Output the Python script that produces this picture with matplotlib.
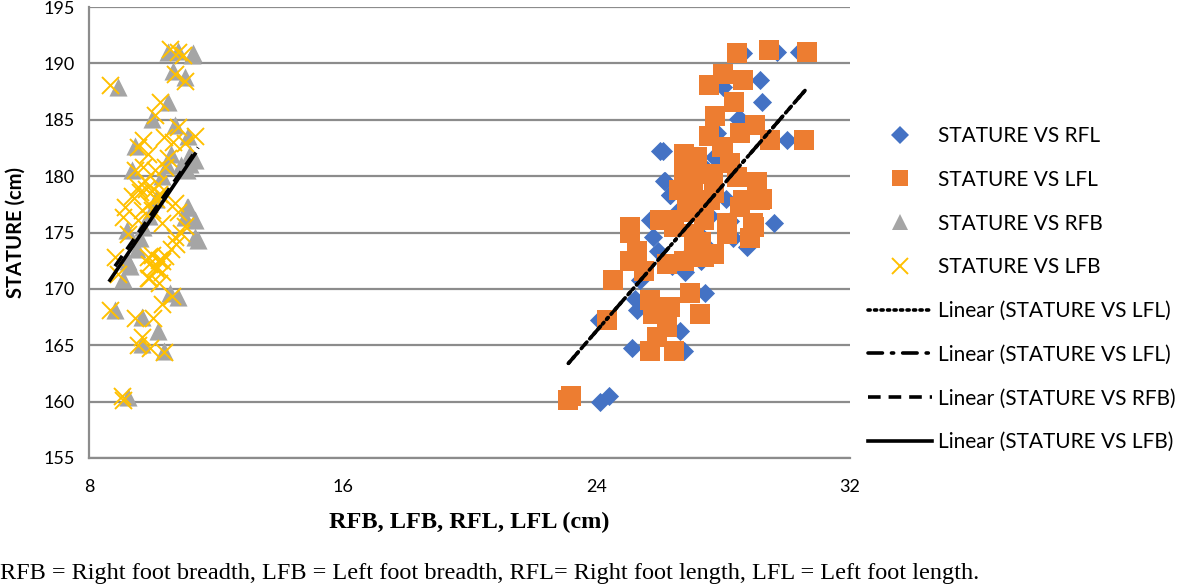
import numpy as np
import matplotlib
matplotlib.use("Agg")
import matplotlib.pyplot as plt
from matplotlib.lines import Line2D

# ---------------- data ----------------
# STATURE VS RFL (right foot length, cm) -> stature (cm)
rfl_x = [24.12, 24.39, 24.07, 25.12, 25.28, 25.23, 26.65, 26.75, 27.44, 26.02,
         26.12, 26.33, 25.70, 25.80, 25.96, 25.38, 29.59, 30.01, 29.22, 29.17,
         28.01, 28.64, 29.70, 30.38, 28.54, 27.81, 28.75, 27.70, 26.11, 26.17,
         26.33, 28.48, 26.40, 26.90, 27.20, 27.60, 28.10, 28.40, 26.60, 27.00,
         27.40, 27.90, 28.20, 26.80, 27.30, 27.10, 28.90, 26.50, 27.50, 28.30]
rfl_y = [160.0, 160.5, 167.2, 164.8, 168.1, 169.1, 166.3, 164.5, 169.6, 182.2,
         179.6, 178.3, 176.1, 174.6, 173.4, 170.8, 175.8, 183.2, 186.6, 188.5,
         187.9, 190.9, 191.0, 191.0, 185.1, 183.8, 173.7, 181.7, 182.2, 179.6,
         178.3, 185.1, 172.0, 173.0, 175.0, 176.5, 178.0, 180.0, 177.0, 179.0,
         174.0, 181.0, 176.0, 171.5, 172.5, 178.0, 179.5, 175.5, 180.5, 174.5]

# STATURE VS LFL (left foot length, cm)
lfl_x = [23.12, 23.20, 24.33, 24.54, 25.07, 25.07, 25.07, 26.02, 25.80, 26.33,
         26.23, 25.70, 26.44, 26.96, 27.28, 28.43, 29.43, 30.64, 28.01, 27.54,
         28.64, 28.33, 27.75, 29.01, 27.54, 30.54, 29.49, 26.75, 28.54, 27.96,
         26.75, 27.49, 26.86, 29.07, 29.22, 28.43, 28.54, 27.70, 28.12, 28.96,
         28.85, 27.07, 26.44, 27.38, 26.75, 26.23, 27.70, 25.49, 27.07, 27.17,
         28.01, 27.69, 26.85, 29.06, 29.17, 27.06, 27.59, 28.64, 26.85, 26.22,
         27.38, 28.11, 28.95, 25.28, 25.70, 25.91, 27.00, 27.30, 26.60, 28.20]
lfl_y = [160.1, 160.5, 167.2, 170.8, 175.0, 175.5, 172.5, 176.1, 167.8, 168.4,
         166.6, 164.5, 164.5, 169.6, 167.8, 190.9, 191.2, 191.0, 189.1, 188.1,
         188.5, 186.6, 185.3, 184.5, 183.6, 183.2, 183.2, 182.0, 183.8, 182.6,
         180.2, 180.2, 177.9, 179.5, 178.0, 179.9, 177.3, 178.5, 174.9, 175.5,
         174.5, 174.9, 175.5, 172.8, 172.5, 172.2, 173.1, 171.6, 173.7, 181.7,
         182.6, 180.2, 179.9, 179.3, 177.9, 178.5, 177.9, 177.9, 177.0, 176.1,
         176.1, 175.8, 175.8, 173.4, 169.0, 165.7, 176.8, 174.2, 178.8, 181.2]

# STATURE VS RFB (right foot breadth, cm)
rfb_x = [11.29, 10.50, 11.24, 10.82, 10.66, 11.03, 8.93, 10.50, 9.98, 10.71,
         9.45, 11.13, 11.34, 9.35, 11.13, 11.19, 11.08, 11.34, 11.44, 9.19,
         11.03, 11.34, 9.24, 9.08, 8.82, 10.82, 9.66, 10.19, 9.66, 10.35,
         9.24, 10.55, 9.30, 9.50, 9.60, 9.70, 9.90, 10.10, 10.30, 10.45,
         10.60, 10.90, 11.10, 11.20]
rfb_y = [190.9, 191.0, 190.7, 191.1, 189.3, 188.8, 187.9, 186.6, 185.1, 184.5,
         182.7, 183.6, 181.4, 180.5, 177.3, 181.1, 177.3, 176.1, 174.3, 175.2,
         176.4, 174.6, 172.5, 170.9, 168.1, 169.3, 167.5, 166.3, 165.1, 164.5,
         160.4, 169.6, 172.0, 173.5, 174.5, 175.5, 176.5, 178.0, 180.0, 181.0,
         182.0, 181.0, 180.5, 182.0]

# STATURE VS LFB (left foot breadth, cm)
lfb_x = [10.56, 10.82, 10.98, 10.71, 11.03, 8.66, 10.24, 10.08, 10.82, 11.34,
         9.71, 9.56, 10.35, 10.66, 11.03, 9.87, 10.50, 9.45, 10.08, 10.40,
         9.77, 10.19, 9.56, 9.98, 9.35, 10.29, 10.71, 9.14, 9.66, 10.80,
         9.08, 9.56, 10.29, 11.03, 9.24, 10.71, 8.82, 9.87, 10.29, 8.93,
         9.87, 10.08, 10.61, 10.29, 8.66, 9.45, 10.03, 9.66, 9.56, 9.93,
         10.35, 9.03, 9.08, 9.90, 10.10, 9.80, 10.00, 9.70, 10.20, 9.60,
         9.90, 10.10, 10.20, 10.30, 10.00, 10.40, 10.75, 10.90, 10.60, 9.90,
         10.20]
lfb_y = [191.3, 191.0, 190.7, 189.1, 188.4, 188.1, 186.6, 185.4, 184.4, 183.6,
         183.2, 182.6, 183.5, 183.0, 182.9, 182.0, 181.6, 180.5, 180.5, 180.8,
         179.6, 179.3, 179.0, 178.7, 178.2, 178.2, 177.6, 177.3, 177.0, 176.8,
         176.4, 176.1, 175.8, 175.6, 174.9, 174.6, 172.8, 172.8, 172.5, 171.3,
         171.0, 171.9, 169.4, 168.7, 168.1, 167.4, 167.4, 165.7, 165.0, 164.8,
         164.4, 160.5, 160.1, 177.5, 178.0, 178.9, 177.0, 180.8, 178.4, 178.6,
         172.2, 171.8, 172.6, 171.5, 173.0, 172.9, 174.0, 175.0, 173.5, 171.0,
         170.5]

series_labels = ["STATURE VS RFL", "STATURE VS LFL", "STATURE VS RFB", "STATURE VS LFB"]
trend_labels = ["Linear (STATURE VS LFL)", "Linear (STATURE VS LFL)",
                "Linear (STATURE VS RFB)", "Linear (STATURE VS LFB)"]

x_ticks = [8, 16, 24, 32]
y_ticks = [155, 160, 165, 170, 175, 180, 185, 190, 195]
x_label = "RFB, LFB, RFL, LFL (cm)"
y_label = "STATURE (cm)"
caption = ("RFB = Right foot breadth, LFB = Left foot breadth, "
           "RFL= Right foot length, LFL = Left foot length.")

# ---------------- figure ----------------
plt.rcParams['font.family'] = ['Lato', 'DejaVu Sans']
fig = plt.figure(figsize=(11.81, 5.88), dpi=100)
ax = fig.add_axes([89 / 1181, 1 - 458 / 588, (850 - 89) / 1181, (458 - 7) / 588])

blue, orange, grey, yellow = "#4472C4", "#ED7D31", "#A5A5A5", "#FFC000"

ax.scatter(rfl_x, rfl_y, marker='D', s=95, color=blue, linewidths=0, zorder=3)
ax.scatter(lfl_x, lfl_y, marker='s', s=200, color=orange, linewidths=0, zorder=4)
ax.scatter(rfb_x, rfb_y, marker='^', s=170, color=grey, linewidths=0, zorder=5)
ax.scatter(lfb_x, lfb_y, marker='x', s=150, color=yellow, linewidths=1.4, zorder=6)


def trend(xs, ys):
    xs = np.asarray(xs, float)
    ys = np.asarray(ys, float)
    k, b = np.polyfit(xs, ys, 1)
    xx = np.array([xs.min(), xs.max()])
    return xx, k * xx + b


lw = 2.6
tx, ty = trend(lfl_x, lfl_y)
l1, = ax.plot(tx, ty, color='black', lw=lw, linestyle=(0, (0.6, 1.2)),
              dash_capstyle='round', zorder=7)
l2, = ax.plot(tx, ty, color='black', lw=lw, linestyle=(0, (4, 2.5, 0.6, 2.5)),
              dash_capstyle='round', zorder=7)
tx, ty = trend(rfb_x, rfb_y)
l3, = ax.plot(tx, ty, color='black', lw=lw, linestyle=(0, (3.5, 2.2)), zorder=7)
tx, ty = trend(lfb_x, lfb_y)
l4, = ax.plot(tx, ty, color='black', lw=lw, linestyle='-', zorder=7)

ax.set_xlim(8, 32)
ax.set_ylim(155, 195)
ax.set_xticks(x_ticks)
ax.set_yticks(y_ticks)
ax.tick_params(length=0, labelsize=13, pad=10)
ax.tick_params(axis='x', pad=15)
ax.yaxis.grid(True, color='#8c8c8c', lw=1.6)
ax.set_axisbelow(True)
for s in ['top', 'right']:
    ax.spines[s].set_visible(False)
for s in ['left', 'bottom']:
    ax.spines[s].set_color('#8c8c8c')
    ax.spines[s].set_linewidth(1.6)

ax.set_xlabel(x_label, family='Liberation Serif', fontweight='bold', fontsize=17.5, labelpad=12)
ax.set_ylabel(y_label, fontweight='bold', fontsize=14.5, labelpad=13)

# legend handles
mh = [Line2D([], [], marker='D', ls='none', color=blue, markersize=9, markeredgewidth=0),
      Line2D([], [], marker='s', ls='none', color=orange, markersize=12, markeredgewidth=0),
      Line2D([], [], marker='^', ls='none', color=grey, markersize=12, markeredgewidth=0),
      Line2D([], [], marker='x', ls='none', color=yellow, markersize=11, markeredgewidth=1.4)]
handles = mh + [l1, l2, l3, l4]
labels = series_labels + trend_labels
fig.legend(handles, labels, loc='upper left', bbox_to_anchor=(868 / 1181, 1 - 126 / 588),
           frameon=False, fontsize=15, handlelength=3.08, handletextpad=0.3,
           labelspacing=1.14, borderaxespad=0, borderpad=0)

fig.text(0.0, 1 - 573 / 588, caption, family='Liberation Serif', fontsize=17.5,
         ha='left', va='center')

fig.savefig("out.png", dpi=100)
